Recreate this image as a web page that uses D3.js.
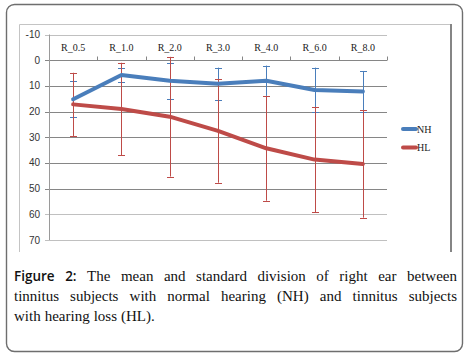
<!DOCTYPE html>
<html>
<head>
<meta charset="utf-8">
<script src="https://cdn.jsdelivr.net/npm/d3@7"></script>
<style>
  body { margin: 0; background: #fff; }
  svg { display: block; }
</style>
</head>
<body>
<div id="chart"></div>
<script>
// data
const categories = ['R_0.5', 'R_1.0', 'R_2.0', 'R_3.0', 'R_4.0', 'R_6.0', 'R_8.0'];
const nhMean = [15.2, 5.8, 8.0, 9.2, 8.0, 11.6, 12.2];
const nhSd   = [7.0, 2.7, 7.0, 6.3, 5.9, 8.7, 8.0];
const hlMean = [17.2, 19.0, 22.0, 27.5, 34.3, 38.7, 40.4];
const hlSd   = [12.3, 18.0, 23.3, 20.2, 20.4, 20.5, 20.9];
const yTicks = [-10, 0, 10, 20, 30, 40, 50, 60, 70];
const captionLines = [
  'Figure 2: The mean and standard division of right ear between',
  'tinnitus subjects with normal hearing (NH) and tinnitus subjects',
  'with hearing loss (HL).'
];

const series = [
  { name: 'NH', mean: nhMean, sd: nhSd, color: '#4a7ebb' },
  { name: 'HL', mean: hlMean, sd: hlSd, color: '#be4b48' }
];

const width = 471, height = 357;
const svg = d3.select('#chart').append('svg')
  .attr('width', width)
  .attr('height', height);

// outer rounded frame
svg.append('rect')
  .attr('x', 6.5).attr('y', 4.5)
  .attr('width', 456).attr('height', 347)
  .attr('rx', 8)
  .attr('fill', 'none')
  .attr('stroke', '#6e6e6e')
  .attr('stroke-width', 1.4);

// chart area box (left/top light, right heavy)
svg.append('path')
  .attr('d', 'M19.5,252 V24.5 H450')
  .attr('fill', 'none').attr('stroke', '#c4c4c4');
svg.append('line')
  .attr('x1', 451).attr('x2', 451).attr('y1', 24).attr('y2', 252)
  .attr('stroke', '#858585').attr('stroke-width', 2);

const x = d3.scaleBand().domain(categories).range([49, 387]);
const y = d3.scaleLinear().domain([-10, 70]).range([34.5, 240]);
const cx = d => x(d) + x.bandwidth() / 2;

// gridlines
svg.append('g').selectAll('line')
  .data(yTicks)
  .join('line')
  .attr('x1', 45).attr('x2', 387)
  .attr('y1', d => Math.round(y(d)) + 0.5)
  .attr('y2', d => Math.round(y(d)) + 0.5)
  .attr('stroke', d => (d >= 0 && d <= 50) ? '#868686' : '#c0c0c0');

// y axis line
svg.append('line')
  .attr('x1', 49.5).attr('x2', 49.5)
  .attr('y1', y(-10)).attr('y2', y(70))
  .attr('stroke', '#9a9a9a');

// y tick labels
svg.append('g').selectAll('text')
  .data(yTicks)
  .join('text')
  .attr('x', 40)
  .attr('y', d => y(d) + 3.5)
  .attr('text-anchor', 'end')
  .attr('font-family', 'Liberation Sans, Arial, sans-serif')
  .attr('font-size', 10)
  .attr('fill', '#333')
  .text(d => d);

// category tick marks on the zero line (pointing up)
const y0 = Math.round(y(0)) + 0.5;
svg.append('g').selectAll('line')
  .data(categories)
  .join('line')
  .attr('x1', (d, i) => Math.round(x.range()[0] + x.step() * (i + 1)) + 0.5)
  .attr('x2', (d, i) => Math.round(x.range()[0] + x.step() * (i + 1)) + 0.5)
  .attr('y1', y0 - 4).attr('y2', y0)
  .attr('stroke', '#868686');

// category labels above the axis
svg.append('g').selectAll('text')
  .data(categories)
  .join('text')
  .attr('x', d => cx(d))
  .attr('y', 51)
  .attr('text-anchor', 'middle')
  .attr('font-family', 'Liberation Serif, Times New Roman, serif')
  .attr('font-size', 10)
  .attr('fill', '#222')
  .text(d => d);

// series: error bars + lines
const line = d3.line()
  .x((d, i) => cx(categories[i]))
  .y(d => y(d));

series.forEach(s => {
  const g = svg.append('g');
  const bars = g.selectAll('g.bar')
    .data(categories.map((c, i) => ({ c, m: s.mean[i], sd: s.sd[i] })))
    .join('g');
  bars.append('line')
    .attr('x1', d => Math.round(cx(d.c)) + 0.5)
    .attr('x2', d => Math.round(cx(d.c)) + 0.5)
    .attr('y1', d => y(d.m - d.sd))
    .attr('y2', d => y(d.m + d.sd))
    .attr('stroke', s.color).attr('stroke-width', 1);
  [-1, 1].forEach(k => {
    bars.append('line')
      .attr('x1', d => Math.round(cx(d.c)) - 3)
      .attr('x2', d => Math.round(cx(d.c)) + 4)
      .attr('y1', d => Math.round(y(d.m + k * d.sd)) + 0.5)
      .attr('y2', d => Math.round(y(d.m + k * d.sd)) + 0.5)
      .attr('stroke', s.color).attr('stroke-width', 1);
  });
});

series.forEach(s => {
  svg.append('path')
    .datum(s.mean)
    .attr('d', line)
    .attr('fill', 'none')
    .attr('stroke', s.color)
    .attr('stroke-width', 4)
    .attr('stroke-linejoin', 'round')
    .attr('stroke-linecap', 'round');
});

// legend
const legend = svg.append('g').selectAll('g')
  .data(series)
  .join('g')
  .attr('transform', (d, i) => `translate(403,${129 + i * 18.5})`);
legend.append('line')
  .attr('x1', 0).attr('x2', 13)
  .attr('stroke', d => d.color)
  .attr('stroke-width', 4)
  .attr('stroke-linecap', 'round');
legend.append('text')
  .attr('x', 14).attr('y', 3.5)
  .attr('font-family', 'Liberation Serif, Times New Roman, serif')
  .attr('font-size', 10)
  .attr('fill', '#222')
  .text(d => d.name);

// caption, justified word by word
const capLeft = 14, capRight = 457;
captionLines.forEach((ln, li) => {
  const words = ln.split(' ');
  const baseY = 281 + li * 20;
  const nodes = words.map((w, wi) => {
    const bold = li === 0 && wi < 2;
    return svg.append('text')
      .attr('y', baseY)
      .attr('font-family', bold ? 'Open Sans, sans-serif' : 'Liberation Serif, Times New Roman, serif')
      .attr('font-weight', bold ? 600 : 400)
      .attr('font-size', bold ? 13.5 : 15)
      .attr('fill', '#111')
      .text(w);
  });
  const widths = nodes.map(n => n.node().getComputedTextLength());
  const total = d3.sum(widths);
  const justify = li < captionLines.length - 1;
  const gap = justify ? (capRight - capLeft - total) / (words.length - 1) : 4;
  let cur = capLeft;
  nodes.forEach((n, i) => {
    n.attr('x', cur);
    cur += widths[i] + gap;
  });
});
</script>
</body>
</html>
